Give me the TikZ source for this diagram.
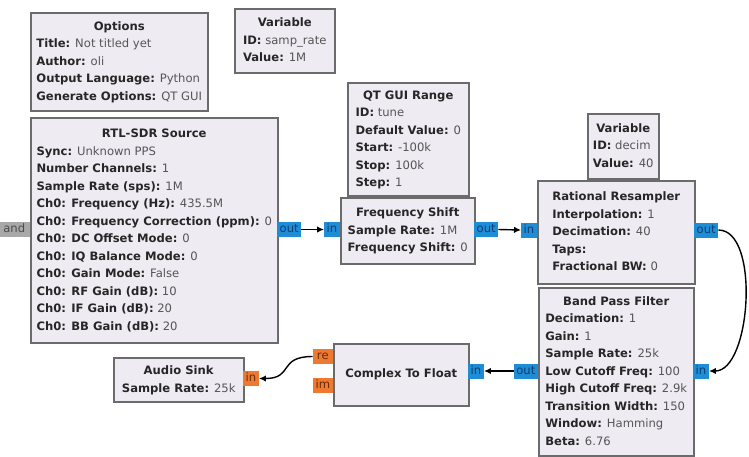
\documentclass[tikz,border=0pt]{standalone}
\usepackage{fontspec}
\setmainfont{DejaVu Sans}
\usetikzlibrary{arrows.meta}
\definecolor{blockfill}{HTML}{EEEBF3}
\definecolor{blockline}{HTML}{6B6B6B}
\definecolor{portblue}{HTML}{1F8DD6}
\definecolor{porttxtblue}{HTML}{0E3E6E}
\definecolor{portorange}{HTML}{EE7A32}
\definecolor{porttxtorange}{HTML}{6A2A0C}
\definecolor{portgray}{HTML}{A8A8A8}
\definecolor{labelcol}{HTML}{262626}
\definecolor{valcol}{HTML}{555555}
\newcommand\grcfont{\fontsize{11.6}{17.5}\selectfont}
\newcommand\kv[2]{\textbf{#1:} {\color{valcol}#2}}
\newcommand\grcblk[2]{\begin{tabular}{@{}l@{}}\multicolumn{1}{@{}c@{}}{\textbf{#1}}\\ #2\end{tabular}}
\begin{document}
\begin{tikzpicture}[x=1pt,y=-1pt,
  block/.style={draw=blockline, line width=1.5pt, fill=blockfill, anchor=north west, inner sep=0pt, font=\grcfont, text=labelcol},
  sz/.style 2 args={minimum width=#1pt, minimum height=#2pt},
  port/.style={font=\grcfont, inner xsep=2.5pt, inner ysep=0pt, minimum height=15pt, text height=8.5pt, text depth=2pt},
  bport/.style={port, fill=portblue, text=porttxtblue},
  oport/.style={port, fill=portorange, text=porttxtorange, minimum width=20pt},
  gport/.style={port, fill=portgray, text=black!70},
  conn/.style={line width=1.4pt, -{Latex[length=7pt,width=6.5pt]}}]
\path[use as bounding box, fill=white] (0,0) rectangle (749,456);

% blocks
\node[block, sz={177}{98}] (opt) at (30,12) {\grcblk{Options}{\kv{Title}{Not titled yet}\\ \kv{Author}{oli}\\ \kv{Output Language}{Python}\\ \kv{Generate Options}{QT GUI}}};
\node[block, sz={100}{64}] (var1) at (234,8) {\grcblk{Variable}{\kv{ID}{samp\_rate}\\ \kv{Value}{1M}}};
\node[block, sz={247}{225}] (rtl) at (30,117) {\grcblk{RTL-SDR Source}{\kv{Sync}{Unknown PPS}\\ \kv{Number Channels}{1}\\ \kv{Sample Rate (sps)}{1M}\\ \kv{Ch0: Frequency (Hz)}{435.5M}\\ \kv{Ch0: Frequency Correction (ppm)}{0}\\ \kv{Ch0: DC Offset Mode}{0}\\ \kv{Ch0: IQ Balance Mode}{0}\\ \kv{Ch0: Gain Mode}{False}\\ \kv{Ch0: RF Gain (dB)}{10}\\ \kv{Ch0: IF Gain (dB)}{20}\\ \kv{Ch0: BB Gain (dB)}{20}}};
\node[block, sz={121}{113}] (qt) at (347,82) {\grcblk{QT GUI Range}{\kv{ID}{tune}\\ \kv{Default Value}{0}\\ \kv{Start}{-100k}\\ \kv{Stop}{100k}\\ \kv{Step}{1}}};
\node[block, sz={134}{66}] (fs) at (340,197) {\grcblk{Frequency Shift}{\kv{Sample Rate}{1M}\\ \kv{Frequency Shift}{0}}};
\node[block, sz={71}{65}] (var2) at (587,113) {\grcblk{Variable}{\kv{ID}{decim}\\ \kv{Value}{40}}};
\node[block, sz={157}{103}] (rr) at (537,180) {\grcblk{Rational Resampler}{\kv{Interpolation}{1}\\ \kv{Decimation}{40}\\ \kv{Taps}{}\\ \kv{Fractional BW}{0}}};
\node[block, sz={155}{168}] (bpf) at (538,287) {\grcblk{Band Pass Filter}{\kv{Decimation}{1}\\ \kv{Gain}{1}\\ \kv{Sample Rate}{25k}\\ \kv{Low Cutoff Freq}{100}\\ \kv{High Cutoff Freq}{2.9k}\\ \kv{Transition Width}{150}\\ \kv{Window}{Hamming}\\ \kv{Beta}{6.76}}};
\node[block, sz={135}{62}] (ctf) at (333,343) {\textbf{Complex To Float}};
\node[block, sz={130}{44}] (as) at (113,357) {\grcblk{Audio Sink}{\kv{Sample Rate}{25k}}};

% ports
\node[gport, anchor=east, minimum width=31pt] (rtlmsg) at (30,229.5) {and};
\node[bport, anchor=west] (rtlout) at (277,229.5) {out};
\node[bport, anchor=east] (fsin) at (340,229.5) {in};
\node[bport, anchor=west] (fsout) at (474,229.5) {out};
\node[bport, anchor=east] (rrin) at (537,230) {in};
\node[bport, anchor=west] (rrout) at (694,230) {out};
\node[bport, anchor=west] (bpfin) at (693,371) {in};
\node[bport, anchor=east] (bpfout) at (538,371) {out};
\node[bport, anchor=west] (ctfin) at (468,371) {in};
\node[oport, anchor=east] (ctfre) at (333,356.5) {re};
\node[oport, anchor=east] (ctfim) at (333,385) {im};
\node[oport, anchor=west, minimum width=14pt] (asin) at (243,378.5) {in};

% connections
\draw[conn] (rtlout.east) -- (fsin.west);
\draw[conn] (fsout.east) -- (rrin.west);
\draw[conn] (rrout.east) .. controls +(42,0) and +(42,0) .. (bpfin.east);
\draw[conn] (bpfout.west) -- (ctfin.east);
\draw[conn] (ctfre.west) .. controls +(-35,0) and +(35,0) .. (asin.east);
\end{tikzpicture}
\end{document}
